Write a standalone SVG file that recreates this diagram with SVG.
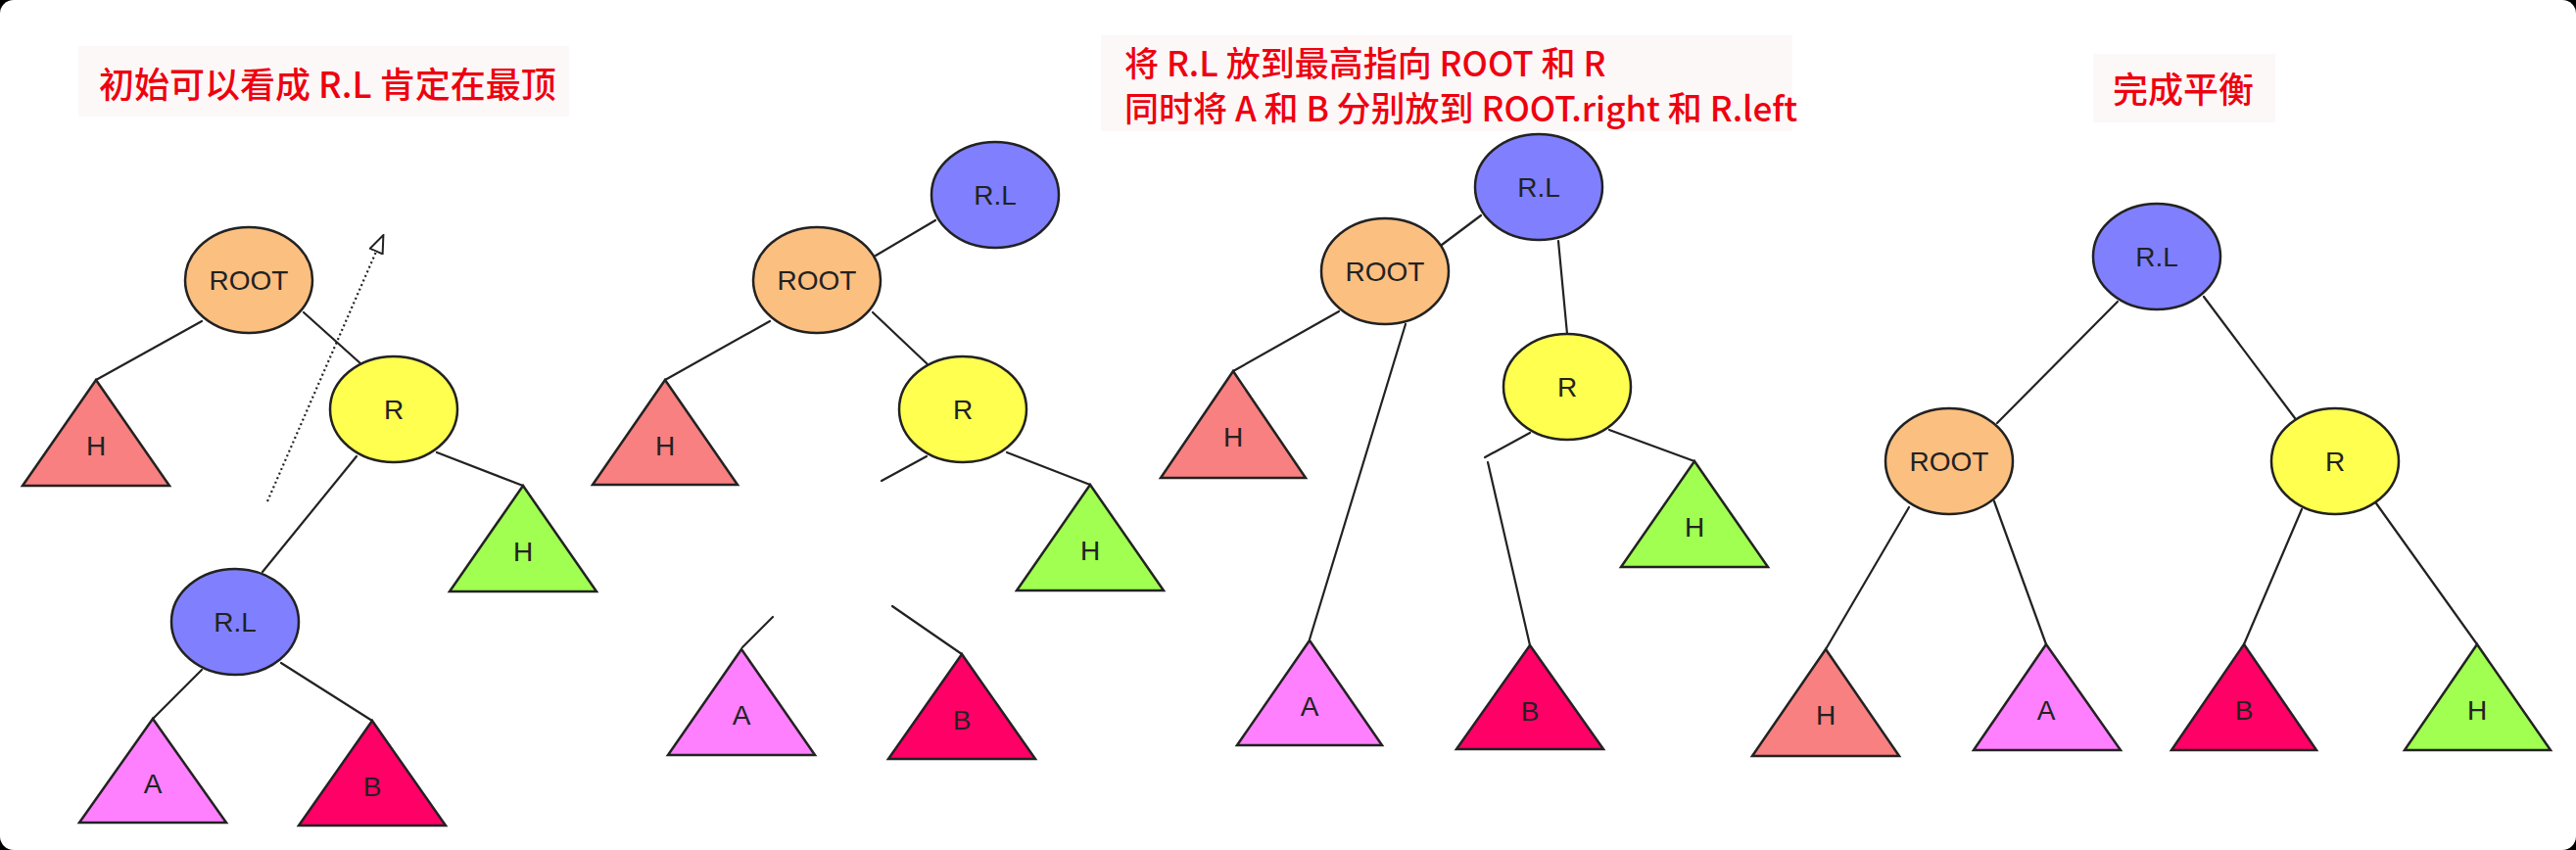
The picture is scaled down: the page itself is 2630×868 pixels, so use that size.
<svg xmlns="http://www.w3.org/2000/svg" width="2630" height="868" viewBox="0 0 2630 868">
<style>
.edge{stroke:#222;stroke-width:2.2;fill:none;stroke-linecap:round}
.nd{stroke:#222;stroke-width:2.5}
.lbl{font-family:"Liberation Sans",Arial,sans-serif;font-size:28px;fill:#222;text-anchor:middle}
.ttl{font-family:"Noto Sans CJK SC","Liberation Sans",sans-serif;font-size:36px;font-weight:500;fill:#ee0010}
.t2{font-size:35px}
.tbg{fill:#fcf8f8}
.root{fill:#fbbf80}.r{fill:#ffff4f}.rl{fill:#8080ff}
.th{fill:#f88080}.tg{fill:#a0ff50}.ta{fill:#ff80ff}.tb{fill:#ff0066}
</style>
<defs>
<marker id="open" viewBox="0 0 20 16" refX="18" refY="8" markerWidth="20" markerHeight="16" markerUnits="userSpaceOnUse" orient="auto">
<path d="M1,1 L19,8 L1,15 Z" fill="#fff" stroke="#222" stroke-width="2"/>
</marker>
</defs>
<rect width="2630" height="868" fill="#000"/>
<rect width="2630" height="868" rx="14" fill="#fff"/>

<g id="titles">
<rect class="tbg" x="80" y="47" width="501" height="72"/>
<text class="ttl" x="101" y="100">初始可以看成 R.L 肯定在最顶</text>
<rect class="tbg" x="1124" y="36" width="706" height="98"/>
<text class="ttl t2" x="1148" y="78">将 R.L 放到最高指向 ROOT 和 R</text>
<text class="ttl t2" x="1148" y="124">同时将 A 和 B 分别放到 ROOT.right 和 R.left</text>
<rect class="tbg" x="2137" y="55" width="186" height="70"/>
<text class="ttl" x="2157" y="105">完成平衡</text>
</g>

<g id="connectors">
<!-- panel 1 -->
<line class="edge" x1="206" y1="328" x2="98" y2="388"/>
<line class="edge" x1="310" y1="319" x2="369" y2="372"/>
<line class="edge" x1="446" y1="462" x2="534" y2="496"/>
<line class="edge" x1="364" y1="466" x2="268" y2="584"/>
<line class="edge" x1="206" y1="684" x2="156" y2="734"/>
<line class="edge" x1="287" y1="677" x2="380" y2="736"/>
<line x1="273" y1="512" x2="391" y2="241" stroke="#222" stroke-width="2.2" stroke-dasharray="2,3" marker-end="url(#open)"/>
<!-- panel 2 -->
<line class="edge" x1="894" y1="261" x2="955" y2="225"/>
<line class="edge" x1="786" y1="328" x2="679" y2="388"/>
<line class="edge" x1="891" y1="319" x2="947" y2="372"/>
<line class="edge" x1="1028" y1="462" x2="1113" y2="495"/>
<line class="edge" x1="946" y1="466" x2="900" y2="491"/>
<line class="edge" x1="789" y1="630" x2="758" y2="661"/>
<line class="edge" x1="911" y1="619" x2="982" y2="668"/>
<!-- panel 3 -->
<line class="edge" x1="1512" y1="220" x2="1472" y2="250"/>
<line class="edge" x1="1591" y1="246" x2="1600" y2="341"/>
<line class="edge" x1="1367" y1="318" x2="1259" y2="379"/>
<line class="edge" x1="1435" y1="331" x2="1337" y2="653"/>
<line class="edge" x1="1643" y1="439" x2="1730" y2="471"/>
<line class="edge" x1="1562" y1="442" x2="1516" y2="467"/>
<line class="edge" x1="1519" y1="472" x2="1562" y2="659"/>
<!-- panel 4 -->
<line class="edge" x1="2162" y1="308" x2="2039" y2="432"/>
<line class="edge" x1="2250" y1="303" x2="2343" y2="427"/>
<line class="edge" x1="1949" y1="518" x2="1864" y2="663"/>
<line class="edge" x1="2036" y1="512" x2="2089" y2="658"/>
<line class="edge" x1="2350" y1="520" x2="2291" y2="658"/>
<line class="edge" x1="2426" y1="514" x2="2529" y2="658"/>
</g>

<!-- panel 1 nodes -->
<g id="p1-root"><ellipse class="nd root" cx="254" cy="286" rx="65" ry="54"/><text class="lbl" x="254" y="296">ROOT</text></g>
<g id="p1-r"><ellipse class="nd r" cx="402" cy="418" rx="65" ry="54"/><text class="lbl" x="402" y="428">R</text></g>
<g id="p1-rl"><ellipse class="nd rl" cx="240" cy="635" rx="65" ry="54"/><text class="lbl" x="240" y="645">R.L</text></g>
<g id="p1-h"><polygon class="nd th" points="98,388 23,496 173,496"/><text class="lbl" x="98" y="465">H</text></g>
<g id="p1-h2"><polygon class="nd tg" points="534,496 459,604 609,604"/><text class="lbl" x="534" y="573">H</text></g>
<g id="p1-a"><polygon class="nd ta" points="156,734 81,840 231,840"/><text class="lbl" x="156" y="810">A</text></g>
<g id="p1-b"><polygon class="nd tb" points="380,736 305,843 455,843"/><text class="lbl" x="380" y="813">B</text></g>

<!-- panel 2 nodes -->
<g id="p2-rl"><ellipse class="nd rl" cx="1016" cy="199" rx="65" ry="54"/><text class="lbl" x="1016" y="209">R.L</text></g>
<g id="p2-root"><ellipse class="nd root" cx="834" cy="286" rx="65" ry="54"/><text class="lbl" x="834" y="296">ROOT</text></g>
<g id="p2-r"><ellipse class="nd r" cx="983" cy="418" rx="65" ry="54"/><text class="lbl" x="983" y="428">R</text></g>
<g id="p2-h"><polygon class="nd th" points="679,388 605,495 753,495"/><text class="lbl" x="679" y="465">H</text></g>
<g id="p2-h2"><polygon class="nd tg" points="1113,495 1038,603 1188,603"/><text class="lbl" x="1113" y="572">H</text></g>
<g id="p2-a"><polygon class="nd ta" points="757,663 682,771 832,771"/><text class="lbl" x="757" y="740">A</text></g>
<g id="p2-b"><polygon class="nd tb" points="982,668 907,775 1057,775"/><text class="lbl" x="982" y="745">B</text></g>

<!-- panel 3 nodes -->
<g id="p3-rl"><ellipse class="nd rl" cx="1571" cy="191" rx="65" ry="54"/><text class="lbl" x="1571" y="201">R.L</text></g>
<g id="p3-root"><ellipse class="nd root" cx="1414" cy="277" rx="65" ry="54"/><text class="lbl" x="1414" y="287">ROOT</text></g>
<g id="p3-r"><ellipse class="nd r" cx="1600" cy="395" rx="65" ry="54"/><text class="lbl" x="1600" y="405">R</text></g>
<g id="p3-h"><polygon class="nd th" points="1259,379 1185,488 1333,488"/><text class="lbl" x="1259" y="456">H</text></g>
<g id="p3-h2"><polygon class="nd tg" points="1730,471 1655,579 1805,579"/><text class="lbl" x="1730" y="548">H</text></g>
<g id="p3-a"><polygon class="nd ta" points="1337,654 1263,761 1411,761"/><text class="lbl" x="1337" y="731">A</text></g>
<g id="p3-b"><polygon class="nd tb" points="1562,659 1487,765 1637,765"/><text class="lbl" x="1562" y="736">B</text></g>

<!-- panel 4 nodes -->
<g id="p4-rl"><ellipse class="nd rl" cx="2202" cy="262" rx="65" ry="54"/><text class="lbl" x="2202" y="272">R.L</text></g>
<g id="p4-root"><ellipse class="nd root" cx="1990" cy="471" rx="65" ry="54"/><text class="lbl" x="1990" y="481">ROOT</text></g>
<g id="p4-r"><ellipse class="nd r" cx="2384" cy="471" rx="65" ry="54"/><text class="lbl" x="2384" y="481">R</text></g>
<g id="p4-h"><polygon class="nd th" points="1864,663 1789,772 1939,772"/><text class="lbl" x="1864" y="740">H</text></g>
<g id="p4-a"><polygon class="nd ta" points="2089,658 2015,766 2165,766"/><text class="lbl" x="2089" y="735">A</text></g>
<g id="p4-b"><polygon class="nd tb" points="2291,658 2217,766 2365,766"/><text class="lbl" x="2291" y="735">B</text></g>
<g id="p4-h2"><polygon class="nd tg" points="2529,658 2455,766 2604,766"/><text class="lbl" x="2529" y="735">H</text></g>
</svg>
